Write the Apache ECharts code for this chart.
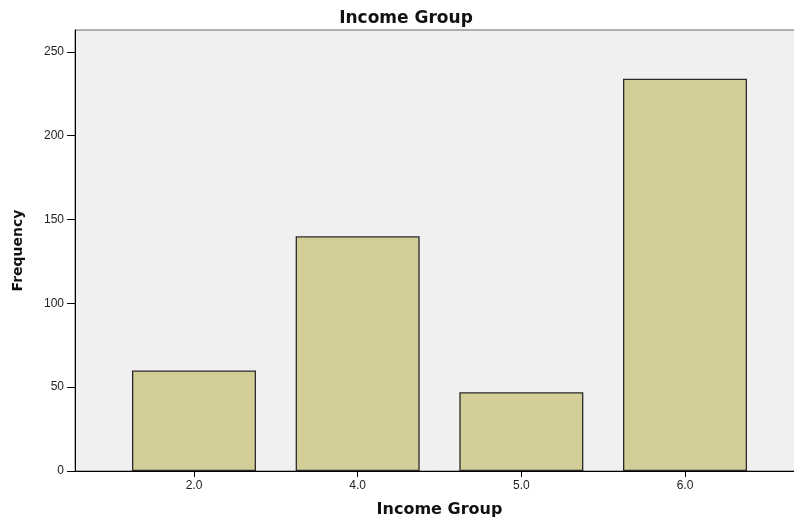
<!DOCTYPE html>
<html>
<head>
<meta charset="utf-8">
<script src="https://cdn.jsdelivr.net/npm/echarts@6/dist/echarts.min.js"></script>
<style>
html,body{margin:0;padding:0;background:#fff;}
#chart{width:794px;height:524px;}
</style>
</head>
<body>
<div id="chart"></div>
<script>
var categories = ['2.0', '4.0', '5.0', '6.0'];
var frequencies = [60, 140, 47, 234];
var yTicks = [0, 50, 100, 150, 200, 250];
var positions = [1, 2, 3, 4];

var chart = echarts.init(document.getElementById('chart'), null, {renderer: 'canvas'});
var seriesData = frequencies.map(function (v, i) { return [positions[i], v]; });

chart.setOption({
  animation: false,
  backgroundColor: '#ffffff',
  title: {
    text: 'Income Group',
    left: 401,
    top: 5,
    textAlign: 'center',
    textStyle: {fontFamily: 'DejaVu Sans', fontWeight: 'bold', fontSize: 17, color: '#111'}
  },
  grid: {
    left: 75, top: 30, width: 729, bottom: 53,
    outerBoundsMode: 'none',
    containLabel: false,
    show: true, backgroundColor: '#f0f0f0', borderColor: '#666', borderWidth: 1
  },
  xAxis: {
    type: 'value',
    min: 0.273,
    max: 4.727,
    name: 'Income Group',
    nameLocation: 'middle',
    nameGap: 31,
    nameTextStyle: {fontFamily: 'DejaVu Sans', fontWeight: 'bold', fontSize: 16, color: '#111'},
    axisLine: {show: true, lineStyle: {color: '#000', width: 1}},
    axisTick: {show: true, length: 6, lineStyle: {color: '#000'}, customValues: positions},
    axisLabel: {
      customValues: positions,
      margin: 9,
      fontFamily: 'Liberation Sans', fontSize: 12, color: '#222',
      formatter: function (v) { return categories[Math.round(v) - 1]; }
    },
    splitLine: {show: false}
  },
  yAxis: {
    type: 'value',
    min: 0,
    max: 263,
    name: 'Frequency',
    nameLocation: 'middle',
    nameGap: 50,
    nameTextStyle: {fontFamily: 'DejaVu Sans', fontWeight: 'bold', fontSize: 14, color: '#111'},
    axisLine: {show: true, lineStyle: {color: '#000', width: 1}},
    axisTick: {show: true, length: 8, lineStyle: {color: '#000'}, customValues: yTicks},
    axisLabel: {customValues: yTicks, margin: 11, fontFamily: 'Liberation Sans', fontSize: 12, color: '#222'},
    splitLine: {show: false}
  },
  series: [{
    type: 'bar',
    data: seriesData,
    barWidth: 124,
    itemStyle: {color: '#d3ce97', borderColor: '#2a2a2a', borderWidth: 1.3}
  }]
});
</script>
</body>
</html>
